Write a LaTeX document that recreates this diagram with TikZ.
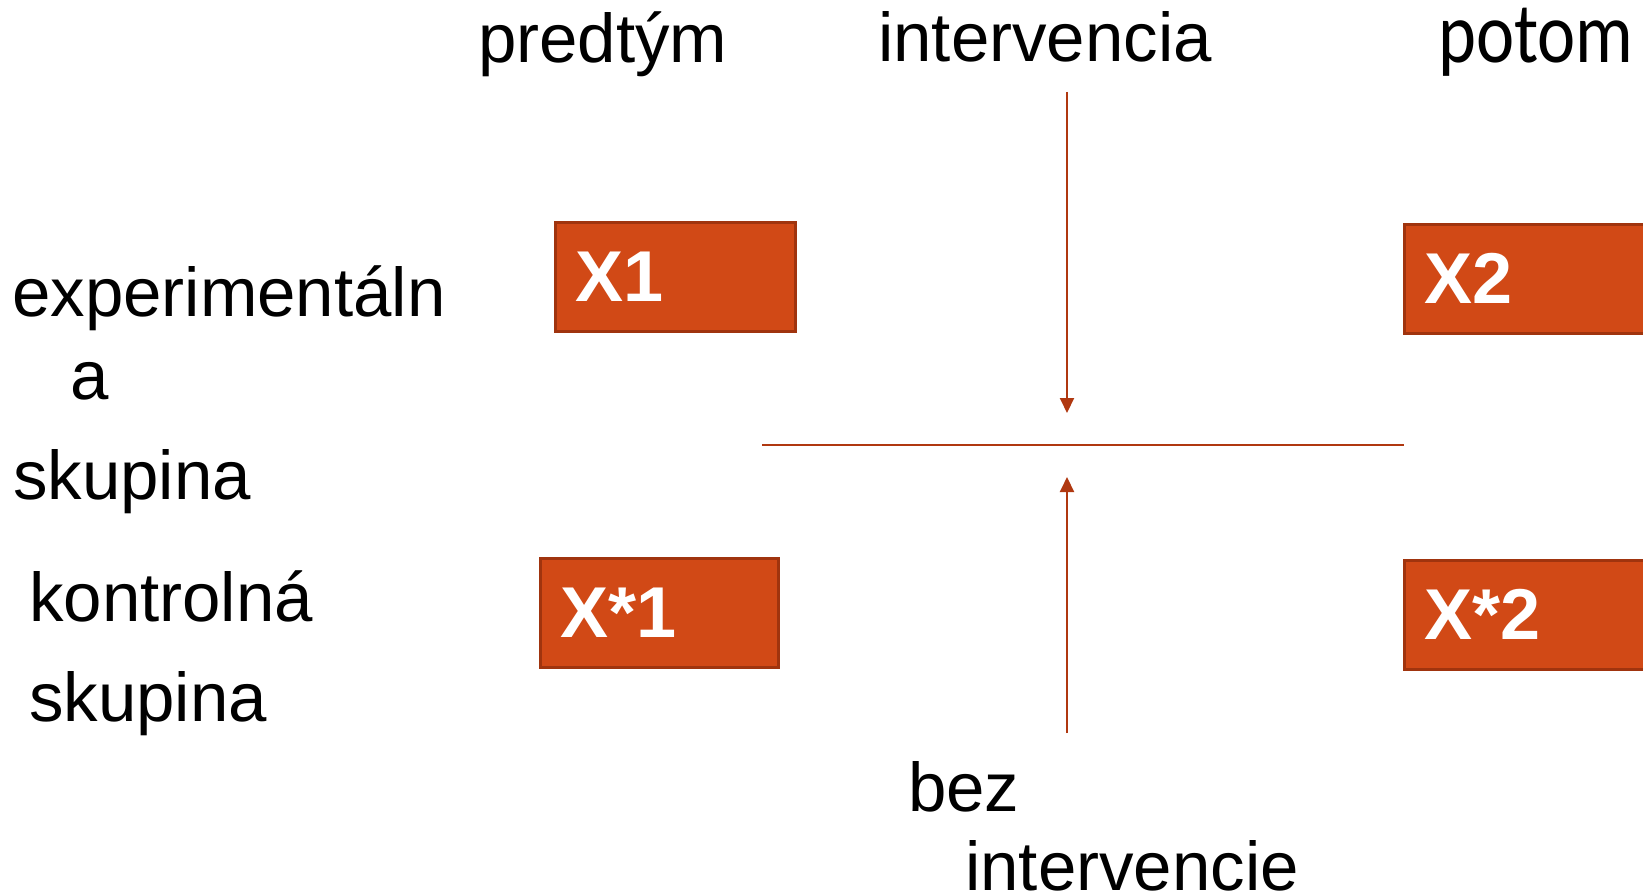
\documentclass[tikz,border=0pt]{standalone}
\usepackage{fontspec}
\setmainfont{Liberation Sans}
\newfontfamily\calib{Carlito}
\usetikzlibrary{arrows.meta}
\definecolor{boxfill}{RGB}{209,73,22}
\definecolor{boxline}{RGB}{160,52,14}
\definecolor{arrowcol}{RGB}{176,56,16}
\begin{document}
\begin{tikzpicture}[x=1pt,y=-1pt,
  lbl/.style={inner sep=0pt, anchor=base west, font=\fontsize{69}{80}\selectfont},
  valbox/.style={draw=boxline, line width=2.5pt, fill=boxfill, text=white,
    font=\fontsize{72}{80}\selectfont\bfseries, anchor=north west,
    inner ysep=0pt, minimum height=109pt, align=left},
  conn/.style={draw=arrowcol, line width=2pt},
  tipend/.style={-{Triangle[width=14pt,length=15pt]}}]
\clip (0,0) rectangle (1643,896);
\fill[white] (0,0) rectangle (1643,896);
% column headers
\node[lbl] (pred) at (478,63) {predtým};
\node[lbl] (interv) at (878,62) {intervencia};
\node[inner sep=0pt, anchor=base west] (potom) at (1438,63)
  {\calib\fontsize{86}{90}\selectfont\scalebox{0.84}[1]{potom}};
% row labels
\node[lbl] (exp1) at (12,316) {experimentáln};
\node[lbl] (exp2) at (70,399) {a};
\node[lbl] (exp3) at (13,499) {skupina};
\node[lbl] (kon1) at (29,621) {kontrolná};
\node[lbl] (kon2) at (29,721) {skupina};
% bottom label
\node[lbl] (bez1) at (908,811) {bez};
\node[lbl] (bez2) at (965,890) {intervencie};
% boxes
\node[valbox, text width=200pt, inner xsep=20pt] (x1) at (554,221) {X1};
\node[valbox, text width=198pt, inner xsep=20pt] (xs1) at (539,557) {X*1};
\node[valbox, text width=260pt, inner xsep=20pt] (x2) at (1403,223) {X2};
\node[valbox, text width=260pt, inner xsep=20pt] (xs2) at (1403,559) {X*2};
% connectors
\coordinate (itop) at (1067,92);
\coordinate (itip) at (1067,413);
\coordinate (btip) at (1067,477);
\coordinate (bbot) at (1067,733);
\coordinate (hl) at (762,445);
\coordinate (hr) at (1404,445);
\draw[conn,tipend] (itop) -- (itip);
\draw[conn,tipend] (bbot) -- (btip);
\draw[conn] (hl) -- (hr);
\end{tikzpicture}
\end{document}
